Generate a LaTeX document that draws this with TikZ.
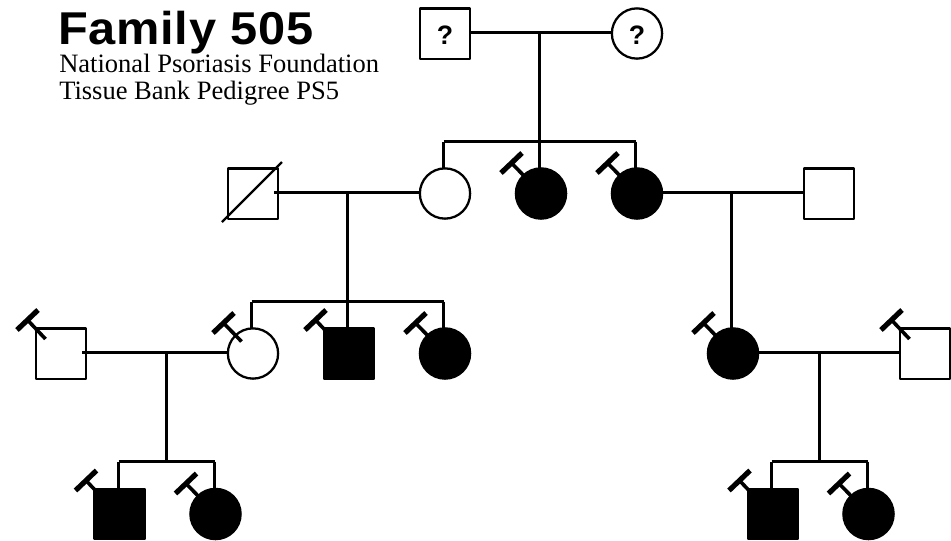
\documentclass[tikz,border=0pt]{standalone}
\usepackage{fontspec}
\setmainfont{Liberation Serif}
\newfontfamily\hd{Liberation Sans}
\newfontfamily\hdsp[LetterSpace=1.6,FakeStretch=1.06]{Liberation Sans}
\newcommand\tmarksq[1]{\begin{scope}[shift={(#1.center)}]
  \draw[tstem] (-33.5,-33.5) -- (-15.5,-14.5);
  \draw[tbar] (-44,-23.5) -- (-23,-43.5);
\end{scope}}
\newcommand\tmarkci[1]{\begin{scope}[shift={(#1.center)}]
  \draw[tstem] (-29.5,-30.5) -- (-11.5,-12);
  \draw[tbar] (-40,-20.5) -- (-19,-40.5);
\end{scope}}
\tikzset{
  x=0.75pt,y=-0.75pt,
  conn/.style={line width=1.7pt,line join=miter,line cap=butt},
  tstem/.style={line width=2.7pt},
  tbar/.style={line width=3.9pt},
  person/.style={draw=black,line width=1.7pt,inner sep=0pt,outer sep=0pt,line join=round},
  msq/.style={person,rectangle,minimum size=37.7pt,fill=white},
  fci/.style={person,circle,minimum size=37.7pt,fill=white},
  aff/.style={fill=black},
  qmark/.style={font=\hd\bfseries\fontsize{20pt}{20pt}\selectfont,text=black},
  title/.style={anchor=base west,inner sep=0pt,font=\hdsp\bfseries\fontsize{34.5pt}{34.5pt}\selectfont},
  subtitle/.style={anchor=base west,inner sep=0pt,font=\fontsize{19.9pt}{19.9pt}\selectfont},
}
\begin{document}
\begin{tikzpicture}
\useasboundingbox (0,0) rectangle (951,540);
\node[title] (ttl) at (58,44) {Family 505};
\node[subtitle] (st1) at (59,72) {National Psoriasis Foundation};
\node[subtitle] (st2) at (59,99) {Tissue Bank Pedigree PS5};
% persons
\node[msq] (gf) at (445,33.5) {};
\node[qmark] (gfq) at (445,35) {?};
\node[fci] (gm) at (637,33.5) {};
\node[qmark] (gmq) at (637,35) {?};
\node[msq] (d) at (253,193.5) {};
\node[fci] (c1) at (445,193.5) {};
\node[fci,aff] (c2) at (541,193.5) {};
\node[fci,aff] (c3) at (637,193.5) {};
\node[msq] (h) at (829,193.5) {};
\node[msq] (ls) at (61,353.5) {};
\node[fci] (g1) at (253,353.5) {};
\node[msq,aff] (g2) at (349,353.5) {};
\node[fci,aff] (g3) at (445,353.5) {};
\node[fci,aff] (r1) at (733,353.5) {};
\node[msq] (rs) at (925,353.5) {};
\node[msq,aff] (k1) at (119.5,514) {};
\node[fci,aff] (k2) at (215.5,514) {};
\node[msq,aff] (k3) at (773,514) {};
\node[fci,aff] (k4) at (868.5,514) {};
% junctions
\coordinate (m1) at (539.5,32.5);
\coordinate (s1) at (539.5,141.5);
\coordinate (m2) at (347.5,192.5);
\coordinate (s2) at (347.5,301.5);
\coordinate (m3) at (731.5,192.5);
\coordinate (m4) at (166.5,352.5);
\coordinate (s4) at (166.5,461.5);
\coordinate (m5) at (819.5,352.5);
\coordinate (s5) at (819.5,461.5);
\coordinate (b1l) at (443.5,141.5);
\coordinate (b1r) at (635.5,141.5);
\coordinate (b2l) at (251.5,301.5);
\coordinate (b2r) at (443.5,301.5);
\coordinate (b4l) at (118.5,461.5);
\coordinate (b4r) at (214.5,461.5);
\coordinate (b5l) at (771.5,461.5);
\coordinate (b5r) at (867.5,461.5);
% connectors
\draw[conn] (gf.east |- m1) -- (gm.west |- m1);
\draw[conn] (m1) -- (s1);
\draw[conn] (b1l) -- (b1r);
\draw[conn] (b1l) -- (b1l |- c1.north);
\draw[conn] (s1) -- (s1 |- c2.north);
\draw[conn] (b1r) -- (b1r |- c3.north);
\draw[conn,shorten <=-3pt] (d.east |- m2) -- (c1.west |- m2);
\draw[conn] (m2) -- (s2);
\draw[conn] (b2l) -- (b2r);
\draw[conn] (b2l) -- (b2l |- g1.north);
\draw[conn] (s2) -- (s2 |- g2.north);
\draw[conn] (b2r) -- (b2r |- g3.north);
\draw[conn] (c3.east |- m3) -- (h.west |- m3);
\draw[conn] (m3) -- (m3 |- r1.north);
\draw[conn,shorten <=-3pt] (ls.east |- m4) -- (g1.west |- m4);
\draw[conn] (m4) -- (s4);
\draw[conn] (b4l) -- (b4r);
\draw[conn] (b4l) -- (b4l |- k1.north);
\draw[conn] (b4r) -- (b4r |- k2.north);
\draw[conn] (r1.east |- m5) -- (rs.west |- m5);
\draw[conn] (m5) -- (s5);
\draw[conn] (b5l) -- (b5r);
\draw[conn] (b5l) -- (b5l |- k3.north);
\draw[conn] (b5r) -- (b5r |- k4.north);
% deceased
\draw[line width=1.7pt] (222,222) -- (282,162);
% proband marks
\tmarkci{c2}\tmarkci{c3}\tmarkci{g1}\tmarkci{g3}\tmarkci{r1}\tmarkci{k2}\tmarkci{k4}
\tmarksq{ls}\tmarksq{g2}\tmarksq{rs}\tmarksq{k1}\tmarksq{k3}
\end{tikzpicture}
\end{document}
